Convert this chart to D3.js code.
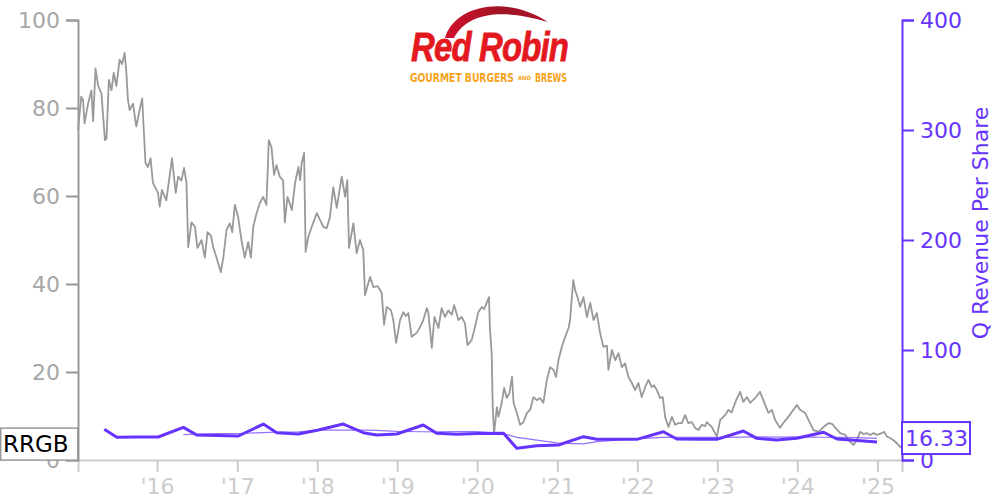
<!DOCTYPE html>
<html>
<head>
<meta charset="utf-8">
<script src="https://cdn.jsdelivr.net/npm/d3@7"></script>
<style>
  html, body { margin: 0; padding: 0; background: #fff; }
  svg { display: block; font-family: "DejaVu Sans", sans-serif; }
</style>
</head>
<body>
<svg id="chart" width="1000" height="500"></svg>
<script>
// ---------- DATA ----------
const ticker = "RRGB";
const yearTickFormat = "'%y";
const leftTicks = [0, 20, 40, 60, 80, 100];
const rightTicks = [0, 100, 200, 300, 400];
const rightAxisTitle = "Q Revenue Per Share";

const priceDates = [
"2015-01-05","2015-01-20","2015-01-28","2015-02-04","2015-02-20","2015-03-07","2015-03-15","2015-03-26","2015-04-07","2015-04-22",
"2015-05-08","2015-05-15","2015-05-26","2015-06-07","2015-06-17","2015-06-29","2015-07-14","2015-07-25","2015-08-06","2015-08-13",
"2015-08-21","2015-08-29","2015-09-13","2015-09-28","2015-10-13","2015-10-25","2015-11-02","2015-11-09","2015-11-20","2015-12-02",
"2015-12-13","2016-01-05","2016-01-13","2016-01-23","2016-02-12","2016-02-23","2016-03-09","2016-03-26","2016-04-06","2016-04-21",
"2016-05-03","2016-05-14","2016-05-22","2016-06-06","2016-06-22","2016-07-03","2016-07-22","2016-08-06","2016-08-18","2016-09-03",
"2016-09-13","2016-09-28","2016-10-18","2016-10-29","2016-11-13","2016-11-28","2016-12-09","2016-12-21","2017-01-05","2017-01-20",
"2017-02-04","2017-02-20","2017-03-04","2017-03-15","2017-03-30","2017-04-14","2017-04-29","2017-05-14","2017-05-25","2017-06-06",
"2017-06-18","2017-06-29","2017-07-14","2017-07-29","2017-08-06","2017-08-18","2017-08-24","2017-09-07","2017-09-22","2017-10-07",
"2017-10-15","2017-10-22","2017-11-02","2017-11-09","2017-11-21","2017-12-07","2017-12-30","2018-01-14","2018-01-29","2018-02-13",
"2018-02-28","2018-03-15","2018-03-31","2018-04-15","2018-04-23","2018-05-08","2018-05-18","2018-05-26","2018-06-15","2018-06-30",
"2018-07-15","2018-07-30","2018-08-07","2018-08-30","2018-09-14","2018-10-04","2018-10-22","2018-11-02","2018-11-14","2018-12-04",
"2018-12-14","2018-12-27","2019-01-14","2019-01-29","2019-02-09","2019-02-21","2019-03-08","2019-03-31","2019-04-15","2019-04-30",
"2019-05-16","2019-05-23","2019-06-08","2019-06-20","2019-07-08","2019-07-23","2019-08-07","2019-08-22","2019-09-07","2019-09-18",
"2019-10-07","2019-10-22","2019-11-06","2019-11-18","2019-12-07","2019-12-22","2020-01-06","2020-01-22","2020-02-02","2020-02-13",
"2020-02-24","2020-02-28","2020-03-07","2020-03-12","2020-03-18","2020-03-31","2020-04-07","2020-04-22","2020-05-03","2020-05-15",
"2020-05-27","2020-06-08","2020-06-15","2020-06-30","2020-07-15","2020-07-30","2020-08-15","2020-08-30","2020-09-14","2020-09-29",
"2020-10-14","2020-10-29","2020-11-14","2020-11-29","2020-12-14","2020-12-26","2021-01-06","2021-01-21","2021-02-06","2021-02-21",
"2021-02-28","2021-03-07","2021-03-15","2021-03-23","2021-04-03","2021-04-15","2021-04-30","2021-05-16","2021-05-31","2021-06-15",
"2021-06-30","2021-07-15","2021-07-30","2021-08-15","2021-08-22","2021-09-07","2021-09-22","2021-10-07","2021-10-22","2021-11-06",
"2021-11-21","2021-12-07","2021-12-22","2022-01-06","2022-01-21","2022-02-06","2022-02-21","2022-03-07","2022-03-18","2022-03-31",
"2022-04-15","2022-04-27","2022-05-08","2022-05-23","2022-06-08","2022-06-23","2022-07-08","2022-07-23","2022-08-07","2022-08-22",
"2022-09-07","2022-09-22","2022-10-07","2022-10-22","2022-11-06","2022-11-14","2022-12-07","2022-12-30","2023-01-14","2023-02-06",
"2023-02-21","2023-03-07","2023-03-28","2023-04-15","2023-04-30","2023-05-16","2023-05-31","2023-06-23","2023-07-15","2023-07-30",
"2023-08-22","2023-09-07","2023-09-22","2023-10-14","2023-10-29","2023-11-21","2023-12-07","2023-12-30","2024-01-14","2024-02-06",
"2024-02-21","2024-03-15","2024-04-07","2024-04-30","2024-05-23","2024-06-08","2024-06-23","2024-07-15","2024-08-07","2024-08-30",
"2024-09-14","2024-09-29","2024-10-14","2024-10-29","2024-11-14","2024-11-29","2024-12-14","2024-12-30","2025-01-21","2025-02-01",
"2025-02-13","2025-02-28","2025-03-15","2025-03-31","2025-04-15","2025-04-23"
];
const priceValues = [
75,82.6,81.8,76.5,81,84,77,89,85,83.3,
72.7,73,86.4,84,88,85,91,90,92.5,88.6,
81.8,79.5,81,75.8,79.5,82.2,74.2,67.5,66.6,68.6,
63,60.7,57.6,61.4,59,63,68.6,60.7,64.4,63.5,
66.4,63,48.4,54,53,48.2,50,46,51.8,51,
48.4,46,42.7,45.9,52.3,53.8,51.8,58,55.2,50,
46,49.5,46,53,56.1,58.4,59.8,58,72.7,71.1,
64.8,67,64.4,63.5,54,59.8,59,56.8,63,66.6,
63.6,67.5,69.8,47.3,50.7,53,56.1,54.5,53,52.7,
55.2,62,57.3,62,64.4,59.8,63.6,48.2,53.8,47,
50,47.7,37.5,41.6,39.3,39.5,38,30.7,34.8,34,
31.8,26.6,31.8,33.6,32.7,33.4,28,28.9,30.2,31.8,
34.5,33.5,25.5,32.5,30,34.5,32.5,34,33,35.2,
31.8,32.5,31.1,26.1,27.3,30.2,33.6,34.8,34.3,35.7,
37,30,24.3,12,6.1,12,9.8,13,16.4,14.1,
15.2,18.9,13,10.7,8,8.6,10.7,11.4,14.3,13.6,
14.1,13,18.2,21.1,20.5,18.9,22.7,25.7,28,30,
31.8,36.4,40.9,38.6,37,34.8,37,32.5,35.7,31.8,
33.4,28.9,25.7,26,20.5,25,22.7,24.3,21.1,22,
18.9,17.5,15.9,17.5,14.3,16.6,18.2,16.6,17,15.9,
14.1,14.3,9.8,7.5,9.8,8,8.4,8.4,10.2,8.4,
8.6,7.3,6.8,8,7.7,8.6,7.5,5.3,9.1,10.2,
11.4,10.8,13.6,15.5,13.2,14.3,13,14.1,15.5,13.6,
10.7,11.4,9.1,7.3,8.4,9.8,10.9,12.5,11.4,10.7,
9.1,6.8,6.4,7.5,8.4,8.2,7.3,6.1,5.7,4.1,
3.4,4.5,6.4,5.9,6.1,5.7,6.1,5.7,6.1,6.4,
5.3,5,4.5,3.8,3,2.7
];

const revDates = [
"2015-05-05","2015-07-01","2015-10-04","2016-01-06","2016-04-30","2016-06-30","2016-10-03","2017-01-06",
"2017-04-30","2017-06-30","2017-10-07","2018-01-06","2018-04-30","2018-07-30","2018-09-29","2018-12-30",
"2019-04-30","2019-06-30","2019-09-29","2019-12-31","2020-04-30","2020-06-30","2020-09-29","2021-01-06",
"2021-04-30","2021-06-30","2021-10-01","2021-12-30","2022-04-30","2022-06-30","2022-10-01","2022-12-30",
"2023-04-30","2023-06-30","2023-09-29","2023-12-30","2024-04-30","2024-06-30","2024-10-01","2024-12-30"
];
const revValues = [
27.9,20.6,20.9,20.9,29.7,22.7,22.3,21.8,
32.7,24.8,23.6,27.3,32.7,24.8,22.7,23.6,
31.8,24.3,23.4,24.1,24.3,10.6,13.0,13.6,
21.2,18.8,18.8,18.8,25.7,19.1,18.9,18.8,
26.4,19.7,18.2,19.7,25.2,19.1,17.7,16.33
];
// thin line (trailing average), starting at the 5th quarter
const revAvgDates = revDates.slice(4);
const revAvgValues = [
23.0,23.6,23.9,24.1,24.9,25.4,25.7,27.1,27.1,27.1,26.9,26.0,
25.7,25.6,25.8,25.9,24.0,20.6,18.0,15.4,14.6,16.7,18.1,19.4,
20.5,20.6,20.6,20.6,20.8,21.0,20.8,21.0,20.7,20.6,20.4,19.7
];

// ---------- CHART ----------
const parse = d3.timeParse("%Y-%m-%d");
const svg = d3.select("#chart");
const purple = "#6633ff";
const fs = 22;

const x = d3.scaleTime()
  .domain([parse("2015-01-05"), parse("2025-04-23")])
  .range([78, 902]);
const yL = d3.scaleLinear().domain([0, 100]).range([460, 20]);
const yR = d3.scaleLinear().domain([0, 400]).range([460, 20]);

// x axis
const gx = svg.append("g").attr("transform", "translate(0,460)")
  .call(d3.axisBottom(x).ticks(d3.timeYear.every(1)).tickFormat(d3.timeFormat(yearTickFormat))
    .tickSize(12).tickPadding(6));
gx.selectAll("path,line").attr("stroke", "#cccccc").attr("stroke-width", 2);
gx.selectAll("text").attr("fill", "#cccccc").style("font-size", fs + "px").style("font-family", "DejaVu Sans");

// left axis
const gl = svg.append("g").attr("transform", "translate(78,0)")
  .call(d3.axisLeft(yL).tickValues(leftTicks).tickSize(12).tickPadding(6));
gl.selectAll("path,line").attr("stroke", "#999999").attr("stroke-width", 2);
gl.selectAll("text").attr("fill", "#a6a6a6").style("font-size", fs + "px").style("font-family", "DejaVu Sans");

// right axis
const gr = svg.append("g").attr("transform", "translate(902,0)")
  .call(d3.axisRight(yR).tickValues(rightTicks).tickSize(12).tickPadding(6));
gr.selectAll("path,line").attr("stroke", purple).attr("stroke-width", 2);
gr.selectAll("text").attr("fill", purple).style("font-size", fs + "px").style("font-family", "DejaVu Sans");

svg.append("text")
  .attr("transform", "translate(988,223) rotate(-90)")
  .attr("text-anchor", "middle")
  .attr("fill", purple)
  .style("font-size", fs + "px")
  .text(rightAxisTitle);

// price line
const priceData = priceDates.map((d, i) => ({ date: parse(d), v: priceValues[i] }));
svg.append("path")
  .datum(priceData)
  .attr("fill", "none")
  .attr("stroke", "#999999")
  .attr("stroke-width", 1.8)
  .attr("stroke-linejoin", "round")
  .attr("d", d3.line().x(d => x(d.date)).y(d => yL(d.v)));

// revenue thin line
const avgData = revAvgDates.map((d, i) => ({ date: parse(d), v: revAvgValues[i] }));
svg.append("path")
  .datum(avgData)
  .attr("fill", "none")
  .attr("stroke", purple)
  .attr("stroke-opacity", 0.7)
  .attr("stroke-width", 1.2)
  .attr("d", d3.line().x(d => x(d.date)).y(d => yR(d.v)));

// revenue thick line
const revData = revDates.map((d, i) => ({ date: parse(d), v: revValues[i] }));
svg.append("path")
  .datum(revData)
  .attr("fill", "none")
  .attr("stroke", purple)
  .attr("stroke-width", 3)
  .attr("stroke-linejoin", "round")
  .attr("d", d3.line().x(d => x(d.date)).y(d => yR(d.v)));

// ticker label (left)
const lastPrice = priceValues[priceValues.length - 1];
const cyL = yL(lastPrice) - 4;
svg.append("rect").attr("x", 0.75).attr("y", cyL - 16).attr("width", 77).attr("height", 32)
  .attr("fill", "#fff").attr("stroke", "#999999").attr("stroke-width", 1.5);
svg.append("text").attr("x", 3).attr("y", cyL + 8).attr("fill", "#000")
  .style("font-size", "23px").text(ticker);

// last revenue label (right)
const lastRev = revValues[revValues.length - 1];
const cyR = yR(lastRev) - 4;
svg.append("rect").attr("x", 902).attr("y", cyR - 16).attr("width", 68).attr("height", 32)
  .attr("fill", "#fff").attr("stroke", purple).attr("stroke-width", 2);
svg.append("text").attr("x", 905).attr("y", cyR + 8).attr("fill", purple)
  .style("font-size", fs + "px").text(d3.format(".2f")(lastRev));

// ---------- LOGO ----------
const logo = svg.append("g");
const defs = svg.append("defs");
const grad = defs.append("linearGradient").attr("id", "sw").attr("x1", "0").attr("x2", "1");
grad.append("stop").attr("offset", "0").attr("stop-color", "#d0112b");
grad.append("stop").attr("offset", "0.6").attr("stop-color", "#9e1526");
grad.append("stop").attr("offset", "1").attr("stop-color", "#b3122a");
logo.append("path")
  .attr("d", "M445,38 C454,6 505,-6 548,22 C505,9 468,11 454,38 Z")
  .attr("fill", "url(#sw)");
logo.append("text")
  .attr("x", 411).attr("y", 61)
  .attr("textLength", 157).attr("lengthAdjust", "spacingAndGlyphs")
  .style("font-family", "'Liberation Sans', Arial, sans-serif")
  .style("font-weight", "bold").style("font-style", "italic")
  .style("font-size", "40px").style("letter-spacing", "-1px")
  .attr("fill", "#e3191f")
  .attr("stroke", "#e3191f").attr("stroke-width", 0.8)
  .text("Red Robin");
const subStyle = sel => sel
  .style("font-family", "'DejaVu Sans Condensed', 'DejaVu Sans', sans-serif")
  .style("font-weight", "bold")
  .attr("fill", "#f5a31a")
  .attr("lengthAdjust", "spacingAndGlyphs");
logo.append("text").attr("x", 410).attr("y", 82).attr("textLength", 104)
  .style("font-size", "12px").call(subStyle).text("GOURMET BURGERS");
logo.append("text").attr("x", 518).attr("y", 80).attr("textLength", 13)
  .style("font-size", "6px").call(subStyle).text("AND");
logo.append("text").attr("x", 535).attr("y", 82).attr("textLength", 32)
  .style("font-size", "12px").call(subStyle).text("BREWS");
</script>
</body>
</html>
